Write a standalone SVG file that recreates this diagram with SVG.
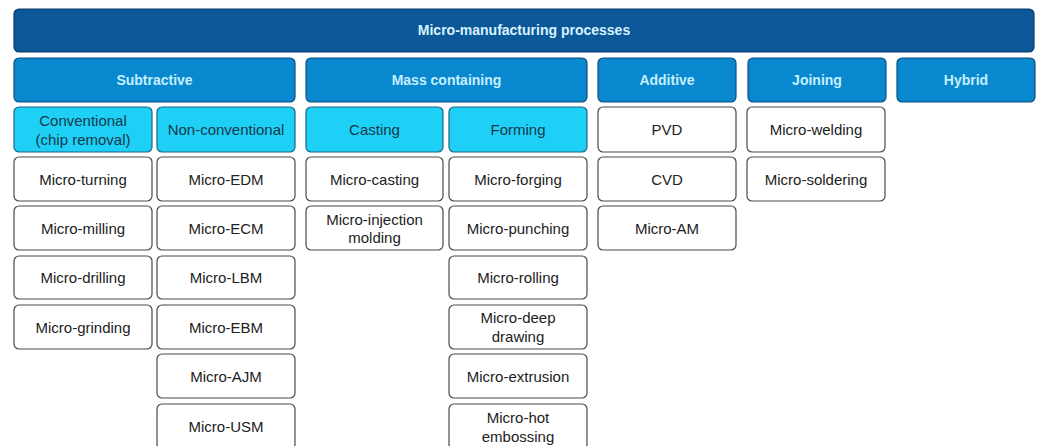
<svg xmlns="http://www.w3.org/2000/svg" width="1038" height="446" viewBox="0 0 1038 446">
<style>
text{font-family:"Liberation Sans",Arial,sans-serif;text-anchor:middle;dominant-baseline:central}
.top{fill:#0b5798;stroke:#083c6c;stroke-width:1.2}
.topt{fill:#d6f3ff;font-size:14px;font-weight:bold}
.cat{fill:#0a88cf;stroke:#0a4f82;stroke-width:1.2}
.catt{fill:#c4efff;font-size:14px;font-weight:bold}
.sub{fill:#1ed0f6;stroke:#1a6585;stroke-width:1.2}
.subt{fill:#17384a;font-size:15px}
.leaf{fill:#fff;stroke:#4a4a4a;stroke-width:1.2}
.leaft{fill:#222;font-size:15px}
</style>
<rect width="1038" height="446" fill="#fff"/>
<g id="connectors"/>
<g id="root"><rect class="top" x="14" y="9" width="1020" height="43" rx="5"/><text class="topt" x="524" y="30">Micro-manufacturing processes</text></g>
<g id="subtractive"><rect class="cat" x="14" y="58" width="281" height="44" rx="5"/><text class="catt" x="154.5" y="80">Subtractive</text></g>
<g id="mass"><rect class="cat" x="306" y="58" width="281" height="44" rx="5"/><text class="catt" x="446.5" y="80">Mass containing</text></g>
<g id="additive"><rect class="cat" x="598" y="58" width="138" height="44" rx="5"/><text class="catt" x="667" y="80">Additive</text></g>
<g id="joining"><rect class="cat" x="748" y="58" width="138" height="44" rx="5"/><text class="catt" x="817" y="80">Joining</text></g>
<g id="hybrid"><rect class="cat" x="897" y="58" width="138" height="44" rx="5"/><text class="catt" x="966" y="80">Hybrid</text></g>
<g id="conventional"><rect class="sub" x="14" y="107" width="138" height="45" rx="5"/><text class="subt" x="83" y="120">Conventional</text><text class="subt" x="83" y="139">(chip removal)</text></g>
<g id="nonconventional"><rect class="sub" x="157" y="107" width="138" height="45" rx="5"/><text class="subt" x="226" y="129.5">Non-conventional</text></g>
<g id="casting"><rect class="sub" x="306" y="107" width="137" height="45" rx="5"/><text class="subt" x="374.5" y="129.5">Casting</text></g>
<g id="forming"><rect class="sub" x="449" y="107" width="138" height="45" rx="5"/><text class="subt" x="518" y="129.5">Forming</text></g>
<g id="pvd"><rect class="leaf" x="598" y="107" width="138" height="45" rx="5"/><text class="leaft" x="667" y="129.5">PVD</text></g>
<g id="welding"><rect class="leaf" x="747" y="107" width="138" height="45" rx="5"/><text class="leaft" x="816" y="129.5">Micro-welding</text></g>
<g id="turning"><rect class="leaf" x="14" y="157" width="138" height="44" rx="5"/><text class="leaft" x="83" y="179">Micro-turning</text></g>
<g id="edm"><rect class="leaf" x="157" y="157" width="138" height="44" rx="5"/><text class="leaft" x="226" y="179">Micro-EDM</text></g>
<g id="mcasting"><rect class="leaf" x="306" y="157" width="137" height="44" rx="5"/><text class="leaft" x="374.5" y="179">Micro-casting</text></g>
<g id="forging"><rect class="leaf" x="449" y="157" width="138" height="44" rx="5"/><text class="leaft" x="518" y="179">Micro-forging</text></g>
<g id="cvd"><rect class="leaf" x="598" y="157" width="138" height="44" rx="5"/><text class="leaft" x="667" y="179">CVD</text></g>
<g id="soldering"><rect class="leaf" x="747" y="157" width="138" height="44" rx="5"/><text class="leaft" x="816" y="179">Micro-soldering</text></g>
<g id="milling"><rect class="leaf" x="14" y="206" width="138" height="44" rx="5"/><text class="leaft" x="83" y="228">Micro-milling</text></g>
<g id="ecm"><rect class="leaf" x="157" y="206" width="138" height="44" rx="5"/><text class="leaft" x="226" y="228">Micro-ECM</text></g>
<g id="injection"><rect class="leaf" x="306" y="206" width="137" height="44" rx="5"/><text class="leaft" x="374.5" y="219">Micro-injection</text><text class="leaft" x="374.5" y="237">molding</text></g>
<g id="punching"><rect class="leaf" x="449" y="206" width="138" height="44" rx="5"/><text class="leaft" x="518" y="228">Micro-punching</text></g>
<g id="am"><rect class="leaf" x="598" y="206" width="138" height="44" rx="5"/><text class="leaft" x="667" y="228">Micro-AM</text></g>
<g id="drilling"><rect class="leaf" x="14" y="256" width="138" height="43" rx="5"/><text class="leaft" x="83" y="277.5">Micro-drilling</text></g>
<g id="lbm"><rect class="leaf" x="157" y="256" width="138" height="43" rx="5"/><text class="leaft" x="226" y="277.5">Micro-LBM</text></g>
<g id="rolling"><rect class="leaf" x="449" y="256" width="138" height="43" rx="5"/><text class="leaft" x="518" y="277.5">Micro-rolling</text></g>
<g id="grinding"><rect class="leaf" x="14" y="305" width="138" height="44" rx="5"/><text class="leaft" x="83" y="327">Micro-grinding</text></g>
<g id="ebm"><rect class="leaf" x="157" y="305" width="138" height="44" rx="5"/><text class="leaft" x="226" y="327">Micro-EBM</text></g>
<g id="deepdrawing"><rect class="leaf" x="449" y="305" width="138" height="44" rx="5"/><text class="leaft" x="518" y="317">Micro-deep</text><text class="leaft" x="518" y="336">drawing</text></g>
<g id="ajm"><rect class="leaf" x="157" y="354" width="138" height="44" rx="5"/><text class="leaft" x="226" y="376">Micro-AJM</text></g>
<g id="extrusion"><rect class="leaf" x="449" y="354" width="138" height="44" rx="5"/><text class="leaft" x="518" y="376">Micro-extrusion</text></g>
<g id="usm"><rect class="leaf" x="157" y="404" width="138" height="45" rx="5"/><text class="leaft" x="226" y="426">Micro-USM</text></g>
<g id="hotembossing"><rect class="leaf" x="449" y="404" width="138" height="45" rx="5"/><text class="leaft" x="518" y="417">Micro-hot</text><text class="leaft" x="518" y="436">embossing</text></g>
</svg>
